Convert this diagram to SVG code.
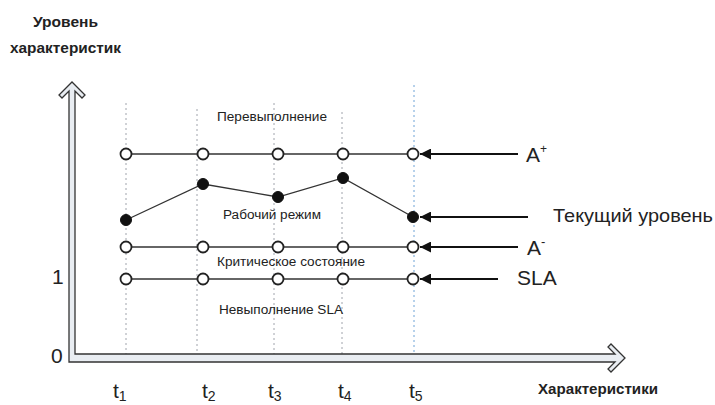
<svg xmlns="http://www.w3.org/2000/svg" width="715" height="405" viewBox="0 0 715 405">
<style>
text{font-family:"Liberation Sans",Arial,sans-serif;fill:#222}
.b{font-weight:bold;font-size:15px}
.s{font-size:12px}
.big{font-size:21px}
.row{stroke:#333;stroke-width:1.3;fill:none}
.oc{fill:#fff;stroke:#222;stroke-width:1.8}
.fc{fill:#111;stroke:#111;stroke-width:1}
.dot{stroke:#a0a4ac;stroke-width:1;stroke-dasharray:2 3}
.arr{stroke:#111;stroke-width:2;fill:none}
</style>
<defs>
<marker id="ah" viewBox="0 0 10 10" refX="10" refY="5" markerWidth="15" markerHeight="11" markerUnits="userSpaceOnUse" orient="auto">
<path d="M0,0 L10,5 L0,10 z" fill="#111"/>
</marker>
</defs>
<rect width="715" height="405" fill="#fff"/>
<g id="axis-labels">
<text class="b" x="33" y="27" textLength="65" lengthAdjust="spacingAndGlyphs">Уровень</text>
<text class="b" x="10" y="53" textLength="111" lengthAdjust="spacingAndGlyphs">характеристик</text>
<text class="b" x="538" y="394" textLength="120" lengthAdjust="spacingAndGlyphs">Характеристики</text>
<text class="big" x="52" y="284">1</text>
<text class="big" x="51" y="363">0</text>
</g>
<g id="guides">
<line class="dot" x1="126" y1="103" x2="126" y2="355"/>
<line class="dot" x1="197" y1="109" x2="197" y2="362"/>
<line class="dot" x1="274" y1="103" x2="274" y2="355"/>
<line class="dot" x1="342" y1="112" x2="342" y2="362"/>
<line class="dot" x1="414" y1="85" x2="414" y2="355" style="stroke:#6fa3d6"/>
</g>
<g id="axes">
<polygon points="69,362 69,91 62,98 59,95 72,82 85,95 82,98 75,91 75,354 615,354 608,347 611,344 625,358 611,372 608,369 615,362" fill="#e9edf2" stroke="#333" stroke-width="1.3" stroke-linejoin="miter"/>
</g>
<g id="connectors">
<line class="row" x1="126" y1="154" x2="413" y2="154"/>
<line class="row" x1="126" y1="247" x2="413" y2="247"/>
<line class="row" x1="126" y1="279" x2="413" y2="279"/>
<polyline class="row" points="126,220 203,184 278,197 343,178 413,217"/>
<line class="arr" x1="518" y1="154" x2="420" y2="154" marker-end="url(#ah)"/>
<line class="arr" x1="528" y1="217" x2="420" y2="217" marker-end="url(#ah)"/>
<line class="arr" x1="518" y1="247" x2="420" y2="247" marker-end="url(#ah)"/>
<line class="arr" x1="498" y1="279" x2="420" y2="279" marker-end="url(#ah)"/>
</g>
<g id="points-A-plus">
<circle class="oc" cx="126" cy="154" r="5.5"/>
<circle class="oc" cx="203" cy="154" r="5.5"/>
<circle class="oc" cx="278" cy="154" r="5.5"/>
<circle class="oc" cx="343" cy="154" r="5.5"/>
<circle class="oc" cx="413" cy="154" r="5.5"/>
</g>
<g id="points-current">
<circle class="fc" cx="126" cy="220" r="5.5"/>
<circle class="fc" cx="203" cy="184" r="5.5"/>
<circle class="fc" cx="278" cy="197" r="5.5"/>
<circle class="fc" cx="343" cy="178" r="5.5"/>
<circle class="fc" cx="413" cy="217" r="5.5"/>
</g>
<g id="points-A-minus">
<circle class="oc" cx="126" cy="247" r="5.5"/>
<circle class="oc" cx="203" cy="247" r="5.5"/>
<circle class="oc" cx="278" cy="247" r="5.5"/>
<circle class="oc" cx="343" cy="247" r="5.5"/>
<circle class="oc" cx="413" cy="247" r="5.5"/>
</g>
<g id="points-SLA">
<circle class="oc" cx="126" cy="279" r="5.5"/>
<circle class="oc" cx="203" cy="279" r="5.5"/>
<circle class="oc" cx="278" cy="279" r="5.5"/>
<circle class="oc" cx="343" cy="279" r="5.5"/>
<circle class="oc" cx="413" cy="279" r="5.5"/>
</g>
<g id="zone-labels">
<text class="s" x="217" y="121" textLength="110" lengthAdjust="spacingAndGlyphs">Перевыполнение</text>
<text class="s" x="223" y="219" textLength="98" lengthAdjust="spacingAndGlyphs">Рабочий режим</text>
<text class="s" x="217" y="266" textLength="148" lengthAdjust="spacingAndGlyphs">Критическое состояние</text>
<text class="s" x="219" y="314" textLength="124" lengthAdjust="spacingAndGlyphs">Невыполнение SLA</text>
</g>
<g id="level-labels">
<text class="big" x="526" y="162">A<tspan font-size="12" dy="-9">+</tspan></text>
<text x="553" y="222" font-size="19" textLength="160" lengthAdjust="spacingAndGlyphs">Текущий уровень</text>
<text class="big" x="527" y="255">A<tspan font-size="13" dy="-9">-</tspan></text>
<text class="big" x="517" y="285">SLA</text>
</g>
<g id="time-labels">
<text class="big" x="113" y="398">t<tspan font-size="14" dy="3">1</tspan></text>
<text class="big" x="202" y="398">t<tspan font-size="14" dy="3">2</tspan></text>
<text class="big" x="268" y="398">t<tspan font-size="14" dy="3">3</tspan></text>
<text class="big" x="338" y="398">t<tspan font-size="14" dy="3">4</tspan></text>
<text class="big" x="409" y="398">t<tspan font-size="14" dy="3">5</tspan></text>
</g>
</svg>
